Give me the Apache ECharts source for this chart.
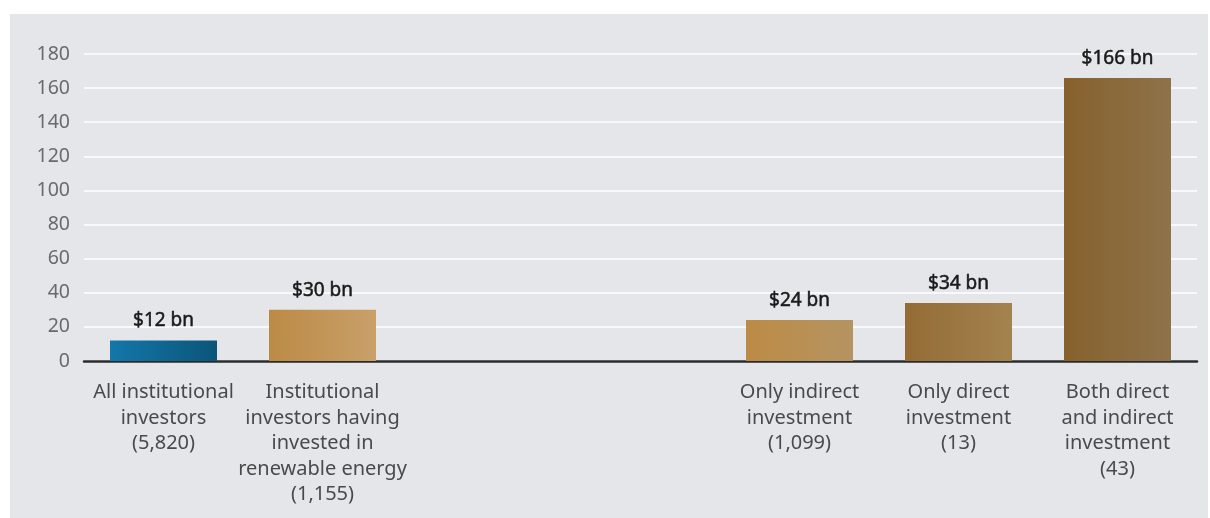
<!DOCTYPE html>
<html lang="en">
<head>
	<meta charset="UTF-8">
	<title>Institutional investors - renewable energy</title>
	<style type="text/css">
		html, body { margin: 0; padding: 0; background: #fff; }
		#a { width: 1210px; height: 518px; }
	</style>
</head>
<body>
	<div id="a"></div>
	<script type="text/javascript" src="https://cdn.jsdelivr.net/npm/echarts@6/dist/echarts.min.js"></script>
	<script type="text/javascript">
		// categories (two empty slots make the gap in the middle)
		var categories = [
			'All institutional\ninvestors\n(5,820)',
			'Institutional\ninvestors having\ninvested in\nrenewable energy\n(1,155)',
			'',
			'',
			'Only indirect\ninvestment\n(1,099)',
			'Only direct\ninvestment\n(13)',
			'Both direct\nand indirect\ninvestment\n(43)'
		];
		var values = [12, 30, '-', '-', 24, 34, 166];
		var barLabels = ['$12 bn', '$30 bn', '', '', '$24 bn', '$34 bn', '$166 bn'];
		// left / right colours of each bar's gradient
		var leftColors = ['#1477aa', '#bb8a45', null, null, '#bc8b45', '#946b35', '#86612d'];
		var rightColors = ['#0b5579', '#c9a06a', null, null, '#b59462', '#a3834f', '#8e724a'];
		var yTicks = [0, 20, 40, 60, 80, 100, 120, 140, 160, 180];

		var fontFam = '"Noto Sans", "DejaVu Sans", sans-serif';
		var myChart = echarts.init(document.getElementById('a'));

		var seriesData = values.map(function (v, i) {
			if (v === '-') return '-';
			return {
				value: v,
				itemStyle: {
					color: new echarts.graphic.LinearGradient(0, 0, 1, 0, [
						{ offset: 0, color: leftColors[i] },
						{ offset: 1, color: rightColors[i] }
					])
				},
				label: { formatter: barLabels[i] }
			};
		});

		var option = {
			animation: false,
			graphic: [{
				type: 'rect',
				left: 10, top: 14,
				shape: { width: 1198, height: 504 },
				style: { fill: '#e5e6ea' },
				z: -10
			}],
			grid: { left: 84, right: 13, top: 54, bottom: 157, containLabel: false },
			xAxis: {
				type: 'category',
				data: categories,
				axisLine: { lineStyle: { color: '#2b2b2b', width: 2.5 } },
				axisTick: { show: false },
				axisLabel: {
					interval: 0,
					margin: 19,
					color: '#4a4a4a',
					fontSize: 20,
					lineHeight: 25.5,
					fontFamily: fontFam
				}
			},
			yAxis: {
				type: 'value',
				min: yTicks[0],
				max: yTicks[yTicks.length - 1],
				interval: 20,
				axisLine: { show: false },
				axisTick: { show: false },
				splitLine: { lineStyle: { color: '#ffffff', width: 1.5 } },
				axisLabel: {
					margin: 14,
					color: '#6a6a6a',
					fontSize: 19.5,
					fontFamily: fontFam
				}
			},
			series: [{
				type: 'bar',
				data: seriesData,
				barWidth: 107,
				label: {
					show: true,
					position: 'top',
					distance: 10,
					color: '#1a1a1a',
					fontSize: 19,
					textBorderColor: '#1a1a1a',
					textBorderWidth: 0.5,
					fontFamily: fontFam
				}
			}]
		};
		myChart.setOption(option);
	</script>
</body>
</html>
